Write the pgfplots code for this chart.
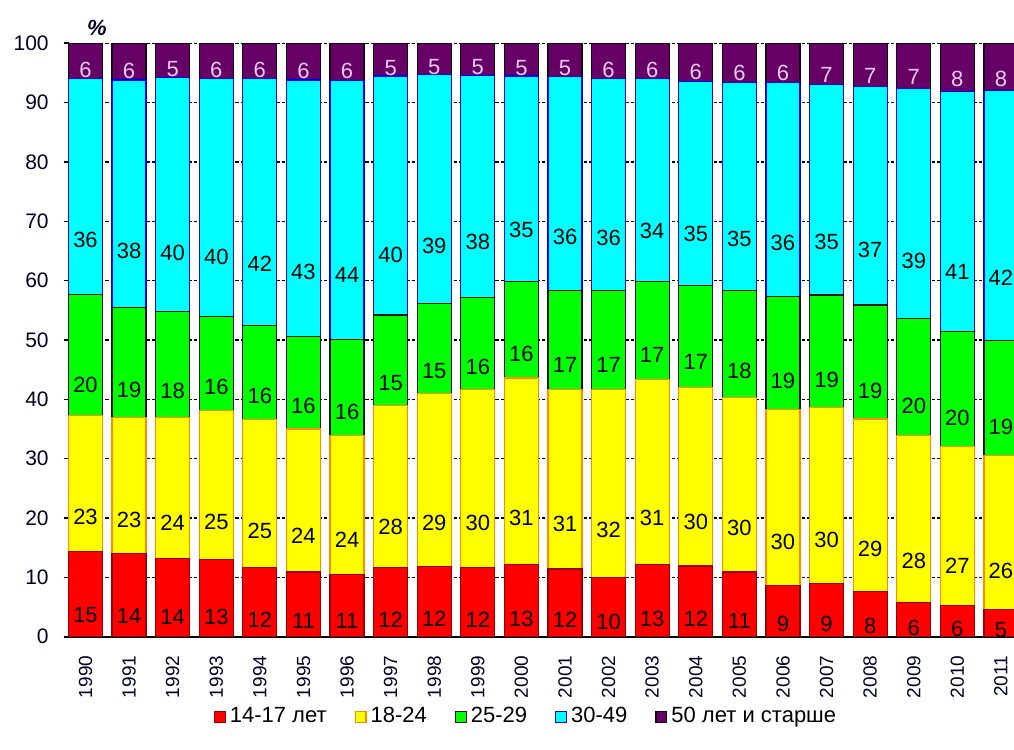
\documentclass[border=0pt]{standalone}
\usepackage{fontspec}
\setmainfont{Liberation Sans}
\usepackage{pgfplots}
\usepackage{pgfplotstable}
\pgfplotsset{compat=1.18}
\definecolor{cred}{RGB}{255,0,0}
\definecolor{credb}{RGB}{150,0,0}
\definecolor{cyel}{RGB}{255,255,0}
\definecolor{cyelb}{RGB}{255,140,0}
\definecolor{cgrn}{RGB}{0,255,0}
\definecolor{cgrnb}{RGB}{20,20,20}
\definecolor{ccyan}{RGB}{0,255,255}
\definecolor{ccyanb}{RGB}{0,0,255}
\definecolor{cpur}{RGB}{102,0,102}
\definecolor{cpurb}{RGB}{20,0,20}
\definecolor{clav}{RGB}{235,205,240}

\pgfplotstableread{
x yr r rl y yl g gl c cl p pl
0 1990 14.4 15 22.9 23 20.4 20 36.4 36 5.9 6
1 1991 14.0 14 23.0 23 18.5 19 38.3 38 6.2 6
2 1992 13.2 14 23.7 24 17.9 18 39.5 40 5.7 5
3 1993 13.0 13 25.1 25 15.8 16 40.2 40 5.9 6
4 1994 11.6 12 25.0 25 15.9 16 41.6 42 5.9 6
5 1995 10.9 11 24.1 24 15.6 16 43.2 43 6.2 6
6 1996 10.5 11 23.4 24 16.2 16 43.6 44 6.3 6
7 1997 11.6 12 27.4 28 15.2 15 40.3 40 5.5 5
8 1998 11.8 12 29.2 29 15.2 15 38.5 39 5.3 5
9 1999 11.6 12 30.0 30 15.5 16 37.5 38 5.4 5
10 2000 12.2 13 31.4 31 16.3 16 34.6 35 5.5 5
11 2001 11.4 12 30.3 31 16.6 17 36.1 36 5.6 5
12 2002 10.0 10 31.7 32 16.6 17 35.8 36 5.9 6
13 2003 12.2 13 31.1 31 16.5 17 34.2 34 6.0 6
14 2004 11.9 12 30.1 30 17.2 17 34.4 35 6.4 6
15 2005 10.9 11 29.4 30 18.0 18 35.1 35 6.6 6
16 2006 8.6 9 29.7 30 19.0 19 36.1 36 6.6 6
17 2007 8.9 9 29.7 30 19.0 19 35.4 35 7.0 7
18 2008 7.6 8 29.1 29 19.2 19 36.8 37 7.3 7
19 2009 5.8 6 28.1 28 19.7 20 38.8 39 7.6 7
20 2010 5.2 6 26.9 27 19.3 20 40.5 41 8.1 8
21 2011 4.6 5 25.9 26 19.4 19 42.1 42 8.0 8
}\datatable

\begin{document}
\begin{tikzpicture}
\begin{axis}[
  name=ax,
  scale only axis,
  width=475.15pt, height=296.7pt,
  ybar stacked, bar width=17pt,
  xmin=-0.5, xmax=21.3, ymin=0, ymax=100,
  xtick=data,
  xticklabels={1990,1991,1992,1993,1994,1995,1996,1997,1998,1999,2000,2001,2002,2003,2004,2005,2006,2007,2008,2009,2010,2011},
  ytick={0,10,...,100},
  axis x line*=bottom, axis y line*=left,
  y axis line style={draw=none},
  x axis line style={black, line width=0.8pt},
  major x tick style={draw=none},
  major y tick style={black, line width=0.8pt},
  tick align=inside, major tick length=2.5pt,
  ymajorgrids,
  major grid style={black, line width=0.7pt, dash pattern=on 1.6pt off 1pt},
  /pgf/number format/assume math mode=true,
  yticklabel style={font=\fontsize{10.5}{12}\selectfont, text=black!85!blue, xshift=-4pt},
  xticklabel style={font=\fontsize{9.5}{11}\selectfont, rotate=90, anchor=east, text=black!85!blue, xshift=-6pt},
  point meta=explicit symbolic,
  nodes near coords,
  every node near coord/.append style={font=\fontsize{11}{13}\selectfont, anchor=center, yshift={-\rawy*0.74175pt}},
  legend image code/.code={\draw[#1] (0pt,-2.7pt) rectangle (5.4pt,2.7pt);},
  legend columns=-1,
  legend style={draw=none, fill=none, font=\fontsize{11}{13}\selectfont,
    at={(0.4875,-0.135)}, anchor=center,
    /tikz/every even column/.append style={column sep=12pt},
    /tikz/every odd column/.append style={column sep=0pt}},
]
\addplot[fill=cred, draw=credb, line width=0.6pt, visualization depends on={\thisrow{r} \as \rawy}] table[x=x,y=r,meta=rl]{\datatable};
\addplot[fill=cyel, draw=cyelb, line width=0.6pt, visualization depends on={\thisrow{y} \as \rawy}] table[x=x,y=y,meta=yl]{\datatable};
\addplot[fill=cgrn, draw=cgrnb, line width=0.6pt, visualization depends on={\thisrow{g} \as \rawy}] table[x=x,y=g,meta=gl]{\datatable};
\addplot[fill=ccyan, draw=ccyanb, line width=0.6pt, visualization depends on={\thisrow{c} \as \rawy}] table[x=x,y=c,meta=cl]{\datatable};
\addplot[fill=cpur, draw=cpurb, line width=0.6pt, visualization depends on={\thisrow{p} \as \rawy}, every node near coord/.append style={text=clav}] table[x=x,y=p,meta=pl]{\datatable};
\legend{14-17 лет, 18-24, 25-29, 30-49, 50 лет и старше}
\end{axis}
\node[font=\fontsize{11}{13}\selectfont\bfseries\itshape, text=black!85!blue] at ([xshift=16.6pt,yshift=7.7pt]ax.north west) {\%};
\pgfresetboundingbox
\useasboundingbox ([xshift=-31.85pt,yshift=-56.15pt]ax.south west) rectangle ([yshift=21.65pt]ax.north east);
\end{tikzpicture}
\end{document}
